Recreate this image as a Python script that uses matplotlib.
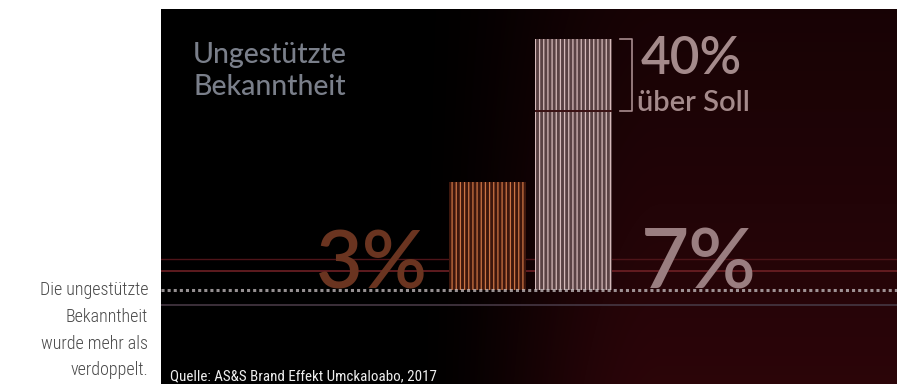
import numpy as np
import matplotlib
matplotlib.use("Agg")
import matplotlib.pyplot as plt

# ---------------- data ----------------
categories = ["vorher", "nachher"]
values = [3, 7]            # ungestützte Bekanntheit in %
target = 5                 # Soll-Wert
value_labels = ["3%", "7%"]
over_target_label = "40%"
over_target_text = "über Soll"
panel_title = ["Ungestützte", "Bekanntheit"]
side_note = ["Die ungestützte", "Bekanntheit", "wurde mehr als", "verdoppelt."]
source_text = "Quelle: AS&S Brand Effekt Umckaloabo, 2017"

# ---------------- layout ----------------
W, H = 897, 384
fig = plt.figure(figsize=(W / 100, H / 100), dpi=100)
fig.patch.set_facecolor("white")

panel_left, panel_top = 161, 9
ax = fig.add_axes([panel_left / W, 0, (W - panel_left) / W, (H - panel_top) / H])
ax.set_axis_off()

px_per_unit_y = 35.85
px_per_unit_x = 86.0
baseline_px = 290          # from top of figure
bar1_center_px = 487.5
ymin = -(H - baseline_px) / px_per_unit_y
ymax = (baseline_px - panel_top) / px_per_unit_y
xmin = -(bar1_center_px - panel_left) / px_per_unit_x
xmax = (W - bar1_center_px) / px_per_unit_x
ax.set_xlim(xmin, xmax)
ax.set_ylim(ymin, ymax)

def ypx(p):
    return (baseline_px - p) / px_per_unit_y

def xpx(p):
    return (p - bar1_center_px) / px_per_unit_x

# background gradient: black (left) -> dark maroon (right)
nx, ny = 400, 100
gx = np.linspace(0, 1, nx)
gy = np.linspace(0, 1, ny)[:, None]   # 0 = bottom, 1 = top
hx = np.clip((gx - 0.33) / 0.35, 0, 1)
hx = hx * hx * (3 - 2 * hx)
shade = hx[None, :] * (1.0 - 0.45 * gy)
maroon = np.array([0.17, 0.02, 0.035])
img = shade[..., None] * maroon[None, None, :]
ax.imshow(img, extent=(xmin, xmax, ymin, ymax), aspect="auto", origin="lower",
          zorder=0, interpolation="bilinear")

# faint horizontal lines
ax.axhline(ypx(259), color="#4e1419", lw=1.0, zorder=1)
ax.axhline(ypx(271), color="#6e2025", lw=1.2, zorder=1)
ax.axhline(ypx(305), color="#463844", lw=1.2, zorder=1)

# bars with vertical stripes
x = np.arange(len(categories))
bar_w = 0.885
face = ["#3e170d", "#5a4244"]
stripe = ["#cc7444", "#d6baba"]
plt.rcParams["hatch.linewidth"] = 0.9
for i in range(len(categories)):
    ax.bar(x[i], values[i], width=bar_w, color=face[i], edgecolor=stripe[i],
           hatch="|" * 4, linewidth=0, zorder=3)

# target line inside second bar
ax.hlines(target, x[1] - bar_w / 2, x[1] + bar_w / 2, color="#3a1012", lw=1.4, zorder=4)

# bracket
bx0, bx1 = x[1] + 0.545, x[1] + 0.685
bc = "#a88c8e"
ax.plot([bx0, bx1, bx1, bx0], [values[1], values[1], target, target],
        color=bc, lw=1.2, zorder=4)

# baseline (textured)
ax.axhline(0, color="#c9c2c4", lw=2.2, linestyle=(0, (1, 1)), zorder=5, alpha=0.75)

# texts
big = ["Lato", "DejaVu Sans"]
ax.text(xpx(316), 0.05, value_labels[0], fontsize=58, color="#6a3420",
        family=big, fontweight="semibold", ha="left", va="baseline", zorder=2)
ax.text(xpx(641), 0.05, value_labels[1], fontsize=60, color="#9a7e80",
        family=big, fontweight="semibold", ha="left", va="baseline", zorder=2)
ax.text(xpx(641), ypx(74), over_target_label, fontsize=37,
        color="#a48a8b", family=big, fontweight="semibold", ha="left", va="baseline", zorder=2)
ax.text(xpx(637), ypx(111), over_target_text, fontsize=21,
        color="#a48a8b", family=big, fontweight="semibold", ha="left", va="baseline", zorder=2)
for line, base in zip(panel_title, [63, 95]):
    ax.text(xpx(193), ypx(base), line, fontsize=20.5, color="#7a7f8a", family=big,
            fontweight="medium", ha="left", va="baseline", zorder=2)

narrow = ["Roboto Condensed", "DejaVu Sans"]
for line, base in zip(side_note, [295, 322, 349, 375]):
    fig.text(148 / W, 1 - base / H, line, fontsize=13, color="#4a4a4a",
             family=narrow, fontweight="light", ha="right", va="baseline")
fig.text(170 / W, 1 - 380 / H, source_text, fontsize=10.8, color="#eeeeee",
         family=narrow, ha="left", va="baseline")

fig.savefig("out.png", dpi=100, facecolor=fig.get_facecolor())
